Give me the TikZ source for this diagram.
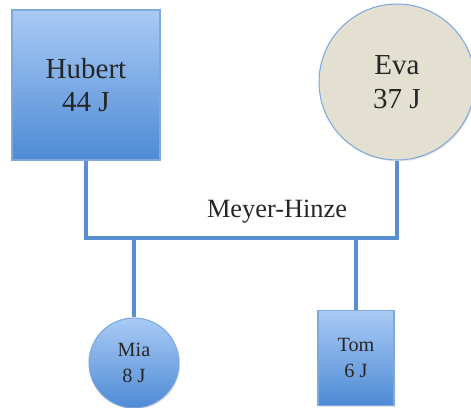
\documentclass[tikz,border=0pt]{standalone}
\usepackage{fontspec}
\setmainfont{Liberation Serif}
\usetikzlibrary{shadows}

\definecolor{famblue}{HTML}{5B8FD3}
\definecolor{boxtop}{HTML}{A9CBF5}
\definecolor{boxbot}{HTML}{4E8AD5}
\definecolor{evafill}{HTML}{E3E0D1}
\definecolor{edgeblue}{HTML}{7FA8DC}

\tikzset{
  person/.style={draw=edgeblue, line width=0.6pt, top color=boxtop, bottom color=boxbot,
    text=black!85, align=center, inner sep=0pt,
    drop shadow={opacity=0.2, shadow xshift=0.6pt, shadow yshift=-0.8pt}},
  parent/.style={font=\fontsize{16.5}{19}\selectfont},
  child/.style={font=\fontsize{11.5}{14.5}\selectfont},
  famline/.style={draw=famblue, line width=1.9pt}
}

\begin{document}
\begin{tikzpicture}[x=0.02cm, y=-0.02cm]
\useasboundingbox (0,0) rectangle (471,407);

\node (hubert) at (86,85) [person, parent, rectangle, minimum width=2.96cm, minimum height=3cm]
  {Hubert\\44 J};
\node (eva) at (397,82) [person, parent, circle, top color=evafill, bottom color=evafill, minimum size=3.12cm]
  {Eva\\37 J};

\node (mia) at (134,363) [person, child, circle, minimum size=1.8cm]
  {Mia\\8 J};
\node (tom) at (356,358) [person, child, rectangle, minimum width=1.52cm, minimum height=1.9cm]
  {Tom\\6 J};

\node (name) at (277,212) [text=black!85, font=\fontsize{15}{18}\selectfont] {Meyer-Hinze};

\coordinate (bar) at (86,238);

\draw [famline] (hubert.south) -- (bar) -| (eva.south);
\draw [famline] (mia.north) -- (mia.north |- bar);
\draw [famline] (tom.north) -- (tom.north |- bar);

\end{tikzpicture}
\end{document}
